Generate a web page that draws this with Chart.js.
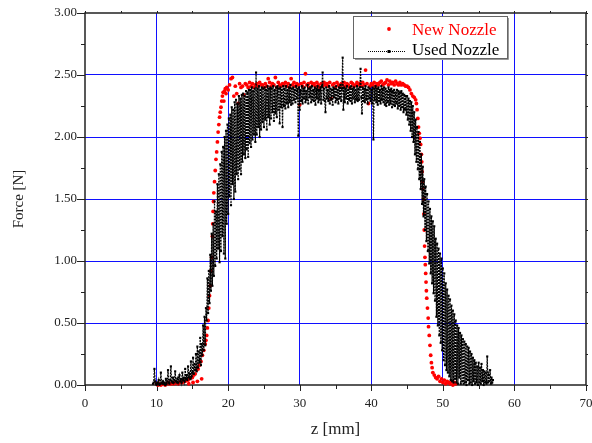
<!DOCTYPE html>
<html>
<head>
<meta charset="utf-8">
<script src="https://cdn.jsdelivr.net/npm/chart.js@4.4.1/dist/chart.umd.min.js"></script>
<style>
  html, body { margin: 0; padding: 0; background: #fff; }
  canvas { display: block; }
</style>
</head>
<body>
<canvas id="forceChart" width="592" height="443"></canvas>
<script>
// AXES
const xTitle = "z [mm]";
const yTitle = "Force [N]";
const seriesNames = ["New Nozzle", "Used Nozzle"];

// NEW NOZZLE: position z [mm] / force [N]
const zNew = [
    10.0, 10.2, 10.4, 10.6, 10.8, 11.0, 11.2, 11.4, 11.6, 11.8,
    12.0, 12.2, 12.4, 12.6, 12.8, 13.0, 13.2, 13.4, 13.6, 13.8,
    14.0, 14.2, 14.4, 14.5, 14.6, 14.8, 15.0, 15.1, 15.2, 15.4,
    15.6, 15.7, 15.8, 16.0, 16.2, 16.3, 16.4, 16.6, 16.8, 16.9,
    17.0, 17.1, 17.2, 17.3, 17.4, 17.5, 17.6, 17.7, 17.8, 17.85, 17.9, 17.95,
    18.0, 18.1, 18.2, 18.3, 18.4, 18.5, 18.6, 18.7, 18.8, 18.9,
    19.0, 19.1, 19.2, 19.3, 19.4, 19.5, 19.6, 19.7, 19.8,
    20.0, 20.2, 20.4, 20.6, 20.8, 21.0, 21.2, 21.4, 21.6, 21.8,
    22.0, 22.2, 22.4, 22.6, 22.8, 23.0, 23.2, 23.4, 23.6, 23.8,
    24.0, 24.2, 24.4, 24.6, 24.8, 25.0, 25.2, 25.4, 25.6, 25.8,
    26.0, 26.2, 26.4, 26.6, 26.8, 27.0, 27.2, 27.4, 27.6, 27.8,
    28.0, 28.2, 28.4, 28.6, 28.8, 29.0, 29.2, 29.4, 29.6, 29.8,
    30.0, 30.2, 30.4, 30.6, 30.8, 31.0, 31.2, 31.4, 31.6, 31.8,
    32.0, 32.2, 32.4, 32.6, 32.8, 33.0, 33.2, 33.4, 33.6, 33.8,
    34.0, 34.2, 34.4, 34.6, 34.8, 35.0, 35.2, 35.4, 35.6, 35.8,
    36.0, 36.2, 36.4, 36.6, 36.8, 37.0, 37.2, 37.4, 37.6, 37.8,
    38.0, 38.2, 38.4, 38.6, 38.8, 39.0, 39.2, 39.4, 39.6, 39.8,
    40.0, 40.2, 40.4, 40.6, 40.8, 41.0, 41.2, 41.4, 41.6, 41.8,
    42.0, 42.2, 42.4, 42.6, 42.8, 43.0, 43.2, 43.4, 43.6, 43.8,
    44.0, 44.2, 44.4,
    44.6, 44.8, 45.0, 45.2, 45.4, 45.6, 45.8, 46.0, 46.2, 46.3, 46.4, 46.5, 46.6, 46.7, 46.8, 46.9,
    47.0, 47.05, 47.1, 47.15, 47.2, 47.3, 47.35, 47.4, 47.45, 47.5, 47.55, 47.6, 47.65, 47.7, 47.75, 47.85, 47.95,
    48.0, 48.1, 48.2, 48.3, 48.4, 48.5, 48.6, 48.8, 49.0, 49.2, 49.4, 49.6,
    49.8, 50.0, 50.2, 50.4, 50.6, 50.8, 51.0, 51.2, 51.4, 51.6, 51.8
];
const forceNew = [
    0.01, 0.00, 0.01, 0.00, 0.01, 0.01, 0.00, 0.01, 0.02, 0.01,
    0.01, 0.02, 0.01, 0.02, 0.02, 0.01, 0.02, 0.03, 0.02, 0.03,
    0.03, 0.04, 0.04, 0.01, 0.05, 0.06, 0.06, 0.02, 0.08, 0.09,
    0.12, 0.03, 0.13, 0.16, 0.19, 0.05, 0.24, 0.28, 0.33, 0.36,
    0.40, 0.46, 0.52, 0.62, 0.72, 0.80, 0.92, 1.03, 1.20, 1.30, 1.40, 1.48,
    1.55, 1.64, 1.73, 1.82, 1.88, 1.96, 2.04, 2.10, 2.16, 2.20,
    2.24, 2.29, 2.33, 2.36, 2.29, 2.37, 2.39, 2.35, 2.40,
    2.38, 2.42, 2.47, 2.48, 2.33, 2.41, 2.35, 2.27, 2.43, 2.40,
    2.41, 2.34, 2.43, 2.42, 2.40, 2.44, 2.41, 2.43, 2.40, 2.42,
    2.43, 2.41, 2.44, 2.42, 2.42, 2.40, 2.43, 2.41, 2.47, 2.44,
    2.41, 2.43, 2.42, 2.48, 2.40, 2.44, 2.42, 2.41, 2.43, 2.42,
    2.44, 2.41, 2.43, 2.40, 2.47, 2.42, 2.44, 2.41, 2.43, 2.42,
    2.26, 2.43, 2.41, 2.44, 2.51, 2.42, 2.43, 2.40, 2.44, 2.42,
    2.43, 2.41, 2.44, 2.42, 2.40, 2.43, 2.41, 2.44, 2.42, 2.43,
    2.41, 2.44, 2.31, 2.42, 2.43, 2.40, 2.44, 2.42, 2.41, 2.43,
    2.42, 2.44, 2.41, 2.43, 2.42, 2.40, 2.44, 2.43, 2.41, 2.42,
    2.44, 2.42, 2.43, 2.41, 2.44, 2.42, 2.54, 2.43, 2.27, 2.41,
    2.43, 2.42, 2.44, 2.41, 2.43, 2.42, 2.44, 2.45, 2.42, 2.43,
    2.44, 2.46, 2.42, 2.45, 2.43, 2.44, 2.42, 2.45, 2.43, 2.42,
    2.44, 2.42, 2.43,
    2.42, 2.41, 2.41, 2.40, 2.38, 2.35, 2.33, 2.32, 2.30, 2.27, 2.22, 2.15, 2.08, 2.03, 1.99, 1.94,
    1.86, 1.80, 1.72, 1.64, 1.58, 1.50, 1.38, 1.25, 1.12, 1.03, 0.97, 0.90, 0.83, 0.76, 0.70, 0.62, 0.54,
    0.47, 0.40, 0.32, 0.24, 0.18, 0.14, 0.10, 0.08, 0.06, 0.05, 0.07, 0.03,
    0.05, 0.02, 0.04, 0.01, 0.03, 0.02, 0.01, 0.03, 0.00, 0.02, 0.01
];

// USED NOZZLE: position z [mm] / force [N], one row per millimetre
const zUsed = [
    9.5, 9.6, 9.7, 9.8, 9.9,
    10.0, 10.1, 10.2, 10.3, 10.4, 10.5, 10.6, 10.7, 10.8, 10.9,
    11.0, 11.1, 11.2, 11.3, 11.4, 11.5, 11.6, 11.7, 11.8, 11.9,
    12.0, 12.1, 12.2, 12.3, 12.4, 12.5, 12.6, 12.7, 12.8, 12.9,
    13.0, 13.1, 13.2, 13.3, 13.4, 13.5, 13.6, 13.7, 13.8, 13.9,
    14.0, 14.1, 14.2, 14.3, 14.4, 14.5, 14.6, 14.7, 14.8, 14.9,
    15.0, 15.1, 15.2, 15.3, 15.4, 15.5, 15.6, 15.7, 15.8, 15.9,
    16.0, 16.1, 16.2, 16.3, 16.4, 16.5, 16.6, 16.7, 16.8, 16.9,
    17.0, 17.1, 17.2, 17.3, 17.4, 17.5, 17.6, 17.7, 17.8, 17.9,
    18.0, 18.1, 18.2, 18.3, 18.4, 18.5, 18.6, 18.7, 18.8, 18.9,
    19.0, 19.1, 19.2, 19.3, 19.4, 19.5, 19.6, 19.7, 19.8, 19.9,
    20.0, 20.1, 20.2, 20.3, 20.4, 20.5, 20.6, 20.7, 20.8, 20.9,
    21.0, 21.1, 21.2, 21.3, 21.4, 21.5, 21.6, 21.7, 21.8, 21.9,
    22.0, 22.1, 22.2, 22.3, 22.4, 22.5, 22.6, 22.7, 22.8, 22.9,
    23.0, 23.1, 23.2, 23.3, 23.4, 23.5, 23.6, 23.7, 23.8, 23.9,
    24.0, 24.1, 24.2, 24.3, 24.4, 24.5, 24.6, 24.7, 24.8, 24.9,
    25.0, 25.1, 25.2, 25.3, 25.4, 25.5, 25.6, 25.7, 25.8, 25.9,
    26.0, 26.1, 26.2, 26.3, 26.4, 26.5, 26.6, 26.7, 26.8, 26.9,
    27.0, 27.1, 27.2, 27.3, 27.4, 27.5, 27.6, 27.7, 27.8, 27.9,
    28.0, 28.1, 28.2, 28.3, 28.4, 28.5, 28.6, 28.7, 28.8, 28.9,
    29.0, 29.1, 29.2, 29.3, 29.4, 29.5, 29.6, 29.7, 29.8, 29.9,
    30.0, 30.1, 30.2, 30.3, 30.4, 30.5, 30.6, 30.7, 30.8, 30.9,
    31.0, 31.1, 31.2, 31.3, 31.4, 31.5, 31.6, 31.7, 31.8, 31.9,
    32.0, 32.1, 32.2, 32.3, 32.4, 32.5, 32.6, 32.7, 32.8, 32.9,
    33.0, 33.1, 33.2, 33.3, 33.4, 33.5, 33.6, 33.7, 33.8, 33.9,
    34.0, 34.1, 34.2, 34.3, 34.4, 34.5, 34.6, 34.7, 34.8, 34.9,
    35.0, 35.1, 35.2, 35.3, 35.4, 35.5, 35.6, 35.7, 35.8, 35.9,
    36.0, 36.1, 36.2, 36.3, 36.4, 36.5, 36.6, 36.7, 36.8, 36.9,
    37.0, 37.1, 37.2, 37.3, 37.4, 37.5, 37.6, 37.7, 37.8, 37.9,
    38.0, 38.1, 38.2, 38.3, 38.4, 38.5, 38.6, 38.7, 38.8, 38.9,
    39.0, 39.1, 39.2, 39.3, 39.4, 39.5, 39.6, 39.7, 39.8, 39.9,
    40.0, 40.1, 40.2, 40.3, 40.4, 40.5, 40.6, 40.7, 40.8, 40.9,
    41.0, 41.1, 41.2, 41.3, 41.4, 41.5, 41.6, 41.7, 41.8, 41.9,
    42.0, 42.1, 42.2, 42.3, 42.4, 42.5, 42.6, 42.7, 42.8, 42.9,
    43.0, 43.1, 43.2, 43.3, 43.4, 43.5, 43.6, 43.7, 43.8, 43.9,
    44.0, 44.1, 44.2, 44.3, 44.4, 44.5, 44.6, 44.7, 44.8, 44.9,
    45.0, 45.1, 45.2, 45.3, 45.4, 45.5, 45.6, 45.7, 45.8, 45.9,
    46.0, 46.1, 46.2, 46.3, 46.4, 46.5, 46.6, 46.7, 46.8, 46.9,
    47.0, 47.1, 47.2, 47.3, 47.4, 47.5, 47.6, 47.7, 47.8, 47.9,
    48.0, 48.1, 48.2, 48.3, 48.4, 48.5, 48.6, 48.7, 48.8, 48.9,
    49.0, 49.1, 49.2, 49.3, 49.4, 49.5, 49.6, 49.7, 49.8, 49.9,
    50.0, 50.1, 50.2, 50.3, 50.4, 50.5, 50.6, 50.7, 50.8, 50.9,
    51.0, 51.1, 51.2, 51.3, 51.4, 51.5, 51.6, 51.7, 51.8, 51.9,
    52.0, 52.1, 52.2, 52.3, 52.4, 52.5, 52.6, 52.7, 52.8, 52.9,
    53.0, 53.1, 53.2, 53.3, 53.4, 53.5, 53.6, 53.7, 53.8, 53.9,
    54.0, 54.1, 54.2, 54.3, 54.4, 54.5, 54.6, 54.7, 54.8, 54.9,
    55.0, 55.1, 55.2, 55.3, 55.4, 55.5, 55.6, 55.7, 55.8, 55.9,
    56.0, 56.1, 56.2, 56.3, 56.4, 56.5, 56.6, 56.7, 56.8, 56.9,
    57.0
];
const forceUsed = [
    0.01, 0.02, 0.13, 0.03, 0.01,
    0.00, 0.02, 0.01, 0.04, 0.00, 0.01, 0.10, 0.02, 0.01, 0.03,
    0.01, 0.02, 0.00, 0.05, 0.01, 0.03, 0.12, 0.02, 0.01, 0.04,
    0.15, 0.03, 0.02, 0.06, 0.02, 0.04, 0.11, 0.03, 0.02, 0.05,
    0.02, 0.06, 0.08, 0.03, 0.05, 0.02, 0.10, 0.04, 0.06, 0.03,
    0.13, 0.05, 0.08, 0.04, 0.15, 0.06, 0.09, 0.05, 0.19, 0.07,
    0.10, 0.22, 0.09, 0.17, 0.12, 0.25, 0.11, 0.31, 0.14, 0.27,
    0.18, 0.38, 0.16, 0.33, 0.24, 0.48, 0.28, 0.55, 0.32, 0.62,
    0.52, 0.86, 0.58, 0.92, 0.66, 1.05, 0.76, 1.22, 0.80, 1.30,
    0.88, 1.48, 0.96, 1.40, 1.02, 1.62, 1.10, 1.70, 0.99, 1.78,
    1.08, 1.88, 1.20, 1.92, 1.06, 2.00, 1.02, 2.05, 1.30, 2.10,
    1.38, 2.15, 1.52, 2.18, 1.45, 2.24, 1.62, 2.22, 1.50, 2.28,
    1.56, 2.30, 1.70, 2.27, 1.66, 2.33, 1.74, 2.31, 1.70, 2.34,
    1.80, 2.35, 1.86, 2.33, 1.83, 2.37, 1.90, 2.36, 1.84, 2.38,
    1.95, 2.38, 1.92, 2.40, 1.98, 2.37, 2.02, 2.39, 1.96, 2.52,
    2.02, 2.39, 2.08, 2.41, 2.00, 2.38, 2.06, 2.40, 2.12, 2.39,
    2.08, 2.40, 2.14, 2.38, 2.06, 2.41, 2.16, 2.39, 2.10, 2.40,
    2.15, 2.39, 2.20, 2.41, 2.13, 2.38, 2.19, 2.40, 2.16, 2.41,
    2.22, 2.39, 2.11, 2.40, 2.24, 2.38, 2.08, 2.41, 2.25, 2.39,
    2.23, 2.41, 2.27, 2.38, 2.24, 2.40, 2.28, 2.42, 2.26, 2.39,
    2.27, 2.40, 2.30, 2.38, 2.28, 2.41, 2.31, 2.39, 2.01, 2.40,
    2.22, 2.38, 2.29, 2.41, 2.27, 2.39, 2.31, 2.40, 2.28, 2.37,
    2.30, 2.42, 2.27, 2.39, 2.32, 2.40, 2.28, 2.41, 2.30, 2.38,
    2.29, 2.40, 2.26, 2.39, 2.31, 2.41, 2.28, 2.38, 2.30, 2.40,
    2.27, 2.41, 2.52, 2.30, 2.39, 2.29, 2.20, 2.40, 2.31, 2.38,
    2.29, 2.41, 2.27, 2.39, 2.30, 2.38, 2.26, 2.40, 2.32, 2.39,
    2.28, 2.41, 2.30, 2.38, 2.27, 2.40, 2.31, 2.42, 2.29, 2.39,
    2.64, 2.22, 2.40, 2.28, 2.39, 2.31, 2.41, 2.27, 2.38, 2.30,
    2.40, 2.29, 2.41, 2.27, 2.39, 2.31, 2.40, 2.28, 2.38, 2.30,
    2.41, 2.29, 2.39, 2.30, 2.40, 2.55, 2.32, 2.19, 2.40, 2.29,
    2.39, 2.28, 2.41, 2.30, 2.38, 2.27, 2.40, 2.31, 2.39, 2.29,
    2.38, 2.27, 2.40, 1.98, 2.39, 2.30, 2.41, 2.28, 2.39, 2.26,
    2.40, 2.29, 2.38, 2.27, 2.41, 2.30, 2.39, 2.28, 2.40, 2.26,
    2.39, 2.25, 2.37, 2.28, 2.40, 2.26, 2.38, 2.27, 2.39, 2.24,
    2.37, 2.26, 2.38, 2.25, 2.36, 2.27, 2.38, 2.23, 2.37, 2.25,
    2.36, 2.22, 2.37, 2.24, 2.35, 2.20, 2.34, 2.22, 2.33, 2.18,
    2.33, 2.14, 2.31, 2.10, 2.29, 2.05, 2.28, 2.00, 2.25, 1.96,
    2.20, 1.86, 2.14, 1.80, 2.08, 1.74, 2.04, 1.66, 1.96, 1.58,
    1.86, 1.46, 1.76, 1.36, 1.66, 1.25, 1.60, 1.16, 1.54, 1.08,
    1.48, 0.98, 1.42, 0.90, 1.36, 0.82, 1.32, 0.74, 1.28, 0.68,
    1.18, 0.55, 1.14, 0.48, 1.10, 0.40, 1.06, 0.34, 1.02, 0.28,
    0.94, 0.20, 0.90, 0.16, 0.82, 0.12, 0.77, 0.10, 0.72, 0.07,
    0.69, 0.04, 0.64, 0.03, 0.60, 0.02, 0.57, 0.05, 0.52, 0.02,
    0.48, 0.01, 0.46, 0.06, 0.42, 0.01, 0.40, 0.03, 0.37, 0.01,
    0.35, 0.02, 0.33, 0.00, 0.31, 0.04, 0.30, 0.01, 0.27, 0.02,
    0.25, 0.00, 0.22, 0.03, 0.20, 0.01, 0.18, 0.02, 0.15, 0.00,
    0.18, 0.02, 0.14, 0.01, 0.17, 0.03, 0.12, 0.00, 0.11, 0.02,
    0.10, 0.01, 0.23, 0.02, 0.08, 0.03, 0.12, 0.01, 0.06, 0.02,
    0.04
];

if (zNew.length !== forceNew.length || zUsed.length !== forceUsed.length) {
    throw new Error("length mismatch " + zNew.length + "/" + forceNew.length + " " + zUsed.length + "/" + forceUsed.length);
}

const FONT = "'Liberation Serif', 'Times New Roman', serif";
const BLUE = "#1010ff";

const toPoints = (xs, ys) => xs.map((x, i) => ({ x, y: ys[i] }));

// frame round the plot area + tick marks on all four sides
const frameTicks = {
    id: "frameTicks",
    beforeDatasetsDraw(chart) {
        const { ctx, chartArea: a, scales: { x, y } } = chart;
        ctx.save();
        ctx.strokeStyle = "#222";
        ctx.lineWidth = 1;
        ctx.beginPath();
        x.ticks.forEach(t => {
            const px = Math.round(x.getPixelForValue(t.value)) + 0.5;
            const len = t.value % 10 === 0 ? 6 : 4;
            ctx.moveTo(px, a.bottom); ctx.lineTo(px, a.bottom + len);
            ctx.moveTo(px, a.top); ctx.lineTo(px, a.top - 2);
        });
        y.ticks.forEach(t => {
            const py = Math.round(y.getPixelForValue(t.value)) + 0.5;
            const len = Math.round(t.value * 4) % 2 === 0 ? 8 : 4;
            ctx.moveTo(a.left, py); ctx.lineTo(a.left - len, py);
            ctx.moveTo(a.right, py); ctx.lineTo(a.right + 2, py);
        });
        ctx.stroke();
        ctx.lineWidth = 1.5;
        ctx.strokeRect(a.left, a.top, a.right - a.left, a.bottom - a.top);
        ctx.restore();
    }
};

// boxed legend in the upper right of the plot
const legendBox = {
    id: "legendBox",
    afterDraw(chart) {
        const ctx = chart.ctx;
        const left = 353, top = 16, w = 154, h = 42;
        ctx.save();
        ctx.fillStyle = "#fff";
        ctx.fillRect(left, top, w, h);
        ctx.strokeStyle = "#666";
        ctx.lineWidth = 1;
        ctx.strokeRect(left + 0.5, top + 0.5, w, h);
        ctx.strokeStyle = "#999";
        ctx.beginPath();
        ctx.moveTo(left + w + 1.5, top + 2); ctx.lineTo(left + w + 1.5, top + h + 1.5); ctx.lineTo(left + 2, top + h + 1.5);
        ctx.stroke();

        // New Nozzle marker
        ctx.fillStyle = "#ff0000";
        ctx.beginPath();
        ctx.arc(389, 29, 1.9, 0, Math.PI * 2);
        ctx.fill();

        // Used Nozzle marker: dotted line with a square
        ctx.strokeStyle = "#000";
        ctx.setLineDash([1, 1]);
        ctx.beginPath();
        ctx.moveTo(368, 51.5); ctx.lineTo(406, 51.5);
        ctx.stroke();
        ctx.setLineDash([]);
        ctx.fillStyle = "#000";
        ctx.fillRect(387.5, 50, 3, 3);

        ctx.font = "17px " + FONT;
        ctx.textBaseline = "alphabetic";
        ctx.fillStyle = "#ff0000";
        ctx.fillText(seriesNames[0], 412, 35);
        ctx.fillStyle = "#000";
        ctx.fillText(seriesNames[1], 412, 55);
        ctx.restore();
    }
};

new Chart(document.getElementById("forceChart"), {
    type: "scatter",
    data: {
        datasets: [
            {
                label: seriesNames[0],
                data: toPoints(zNew, forceNew),
                pointRadius: 1.9,
                pointBorderWidth: 0,
                pointBackgroundColor: "#ff0000",
                showLine: false,
                clip: 4,
                order: 2
            },
            {
                label: seriesNames[1],
                data: toPoints(zUsed, forceUsed),
                showLine: true,
                borderColor: "#000",
                borderWidth: 1.2,
                borderDash: [2, 1],
                pointStyle: "rect",
                pointRadius: 1.5,
                pointBorderWidth: 0,
                pointBackgroundColor: "#000",
                clip: 4,
                order: 1
            }
        ]
    },
    options: {
        responsive: false,
        animation: false,
        layout: { padding: { top: 13, right: 6, left: 0, bottom: 0 } },
        plugins: { legend: { display: false }, tooltip: { enabled: false } },
        scales: {
            x: {
                type: "linear",
                min: 0, max: 70,
                border: { display: false },
                grid: {
                    drawTicks: false,
                    color: c => (c.tick && c.tick.value % 10 === 0 && c.tick.value > 0 && c.tick.value < 70) ? BLUE : "rgba(0,0,0,0)",
                    lineWidth: 1
                },
                ticks: {
                    stepSize: 5,
                    autoSkip: false,
                    maxRotation: 0,
                    padding: 11,
                    color: "#222",
                    font: { family: FONT, size: 13 },
                    callback: v => (v % 10 === 0 ? String(v) : "")
                },
                title: {
                    display: true,
                    text: xTitle,
                    color: "#222",
                    font: { family: FONT, size: 17 },
                    padding: { top: 0, bottom: 3 }
                },
                afterFit(s) { s.height = 58; s.paddingLeft = 0; s.paddingRight = 0; }
            },
            y: {
                type: "linear",
                min: 0, max: 3,
                border: { display: false },
                grid: {
                    drawTicks: false,
                    color: c => {
                        const v = c.tick ? c.tick.value : 0;
                        return (Math.round(v * 4) % 2 === 0 && v > 0 && v < 3) ? BLUE : "rgba(0,0,0,0)";
                    },
                    lineWidth: 1
                },
                ticks: {
                    stepSize: 0.25,
                    autoSkip: false,
                    padding: 8,
                    color: "#222",
                    font: { family: FONT, size: 13 },
                    callback: v => (Math.round(v * 4) % 2 === 0 ? v.toFixed(2) : "")
                },
                title: {
                    display: true,
                    text: yTitle,
                    color: "#222",
                    font: { family: FONT, size: 15 },
                    padding: { top: 10, bottom: 0 }
                },
                afterFit(s) { s.width = 85; s.paddingTop = 0; s.paddingBottom = 0; }
            }
        }
    },
    plugins: [frameTicks, legendBox]
});
</script>
</body>
</html>
